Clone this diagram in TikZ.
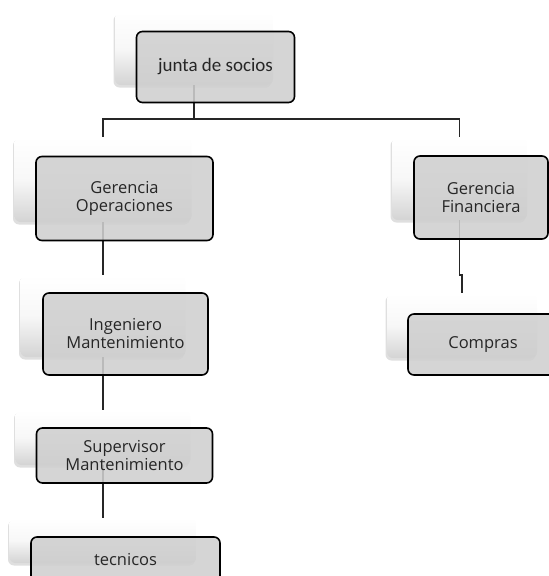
\documentclass[tikz,border=0pt]{standalone}
\usepackage{fontspec}
\setmainfont{Open Sans}
\newfontfamily\juntafont{Carlito}
\usetikzlibrary{shadows}

\tikzset{
  back/.style={rounded corners=6pt, top color=white, bottom color=black!17,
    middle color=black!3, inner sep=0pt, outer sep=0pt,
    drop shadow={shadow xshift=-1.5pt, shadow yshift=-2.5pt, opacity=.25}},
  front/.style={draw=black, line width=1.6pt, rounded corners=6pt,
    fill=black!19, fill opacity=.88, text opacity=1, text=black!85,
    align=center, inner sep=0pt, outer sep=0pt,
    font=\fontsize{16.5}{18}\selectfont},
  link/.style={draw=black!85, line width=1.5pt}
}

\begin{document}
\begin{tikzpicture}[x=1pt, y=-1pt]
\useasboundingbox (0,0) rectangle (549,576);
\clip (0,0) rectangle (549,576);

% back boxes
\node[back, minimum width=158, minimum height=73] (juntaB) at (194,48.5) {};
\node[back, minimum width=177, minimum height=85] (gopB) at (103,179.5) {};
\node[back, minimum width=165, minimum height=82] (ingB) at (103,316) {};
\node[back, minimum width=175, minimum height=55] (supB) at (103,437.5) {};
\node[back, minimum width=187, minimum height=45] (tecB) at (103,540.5) {};
\node[back, minimum width=135, minimum height=83] (gfinB) at (459.5,178.5) {};
\node[back, minimum width=150, minimum height=65] (compB) at (462,325.5) {};

% connectors
\coordinate (bus) at (0,119);
\draw[link] (juntaB.south) -- (juntaB.south |- bus) -| (gopB.north);
\draw[link] (juntaB.south |- bus) -| (gfinB.north);
\draw[link] (gopB.south) -- (ingB.north);
\draw[link] (ingB.south) -- (supB.north);
\draw[link] (supB.south) -- (tecB.north);
\draw[link] (gfinB.south) -- ++(0,55) -| (compB.north);

% front boxes
\node[front, minimum width=158, minimum height=71,
      font=\juntafont\fontsize{19}{21}\selectfont] (junta) at ([shift={(21.5,18.5)}]juntaB.center) {junta de socios};
\node[front, minimum width=177, minimum height=84] (gop) at ([shift={(21.5,19)}]gopB.center) {Gerencia\\Operaciones};
\node[front, minimum width=165, minimum height=82] (ing) at ([shift={(22.5,18)}]ingB.center) {Ingeniero\\Mantenimiento};
\node[front, minimum width=176, minimum height=55] (sup) at ([shift={(21.5,18)}]supB.center) {Supervisor\\Mantenimiento};
\node[front, minimum width=189, minimum height=45] (tec) at ([shift={(22.5,19)}]tecB.center) {tecnicos};
\node[front, minimum width=134, minimum height=83] (gfin) at ([shift={(21.5,19)}]gfinB.center) {Gerencia\\Financiera};
\node[front, minimum width=150, minimum height=61] (comp) at ([shift={(21,19)}]compB.center) {Compras};
\end{tikzpicture}
\end{document}
